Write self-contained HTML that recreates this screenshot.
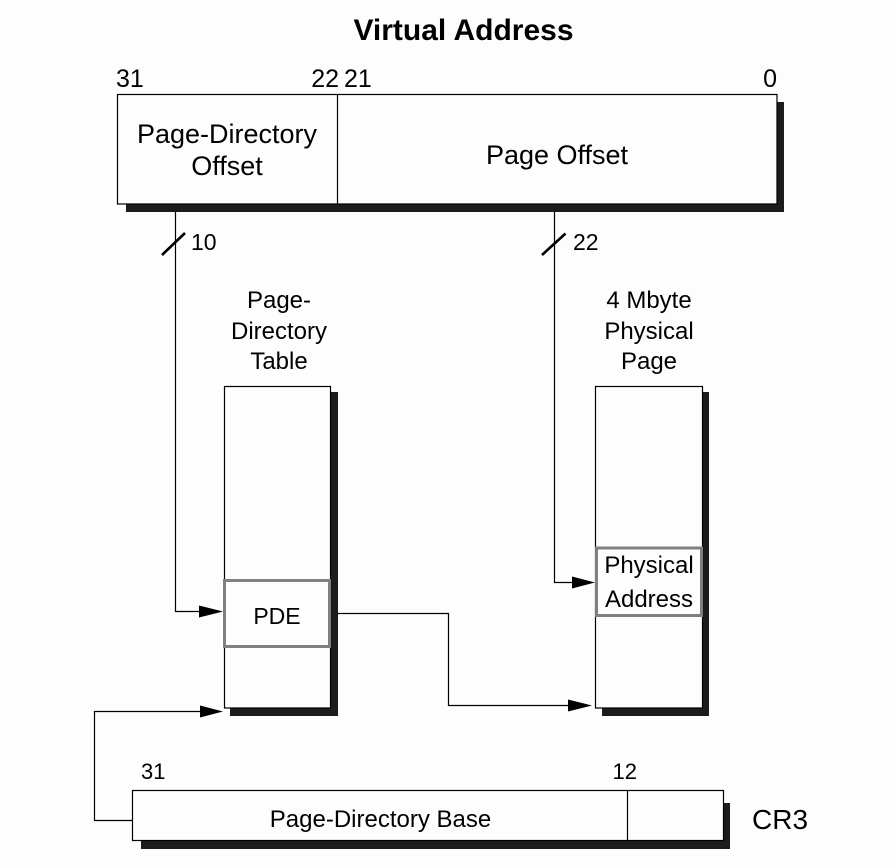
<!DOCTYPE html>
<html>
<head>
<meta charset="utf-8">
<style>
  html, body { margin: 0; padding: 0; background: #fdfdfd; }
  svg { display: block; }
  text { font-family: "Liberation Sans", Arial, sans-serif; fill: #000; }
</style>
</head>
<body>
<svg width="896" height="866" viewBox="0 0 896 866" xmlns="http://www.w3.org/2000/svg">
  <rect x="0" y="0" width="896" height="866" fill="#fdfdfd"/>

  <!-- Title -->
  <text x="463.5" y="40" font-size="30" font-weight="bold" text-anchor="middle">Virtual Address</text>

  <!-- Bit labels top -->
  <text x="116" y="87" font-size="25">31</text>
  <text x="339" y="87" font-size="25" text-anchor="end">22</text>
  <text x="344" y="87" font-size="25">21</text>
  <text x="777" y="87" font-size="25" text-anchor="end">0</text>

  <!-- Virtual address box -->
  <rect x="126" y="102" width="658" height="110" fill="#1c1c1c"/>
  <rect x="117.5" y="94.5" width="659.5" height="109.5" fill="#fdfdfd" stroke="#000" stroke-width="1.2"/>
  <line x1="337.5" y1="94.5" x2="337.5" y2="204" stroke="#000" stroke-width="1.2"/>
  <text x="227" y="143" font-size="27" text-anchor="middle">Page-Directory</text>
  <text x="227" y="175" font-size="27" text-anchor="middle">Offset</text>
  <text x="557" y="164" font-size="27" text-anchor="middle">Page Offset</text>

  <!-- Left connector: PD offset to PDE -->
  <polyline points="175.5,212 175.5,611.5 202,611.5" fill="none" stroke="#000" stroke-width="1.2"/>
  <polygon points="199,605.5 223,611.5 199,617.5" fill="#000"/>
  <line x1="162" y1="255" x2="185" y2="233" stroke="#000" stroke-width="2.6"/>
  <text x="191" y="250" font-size="23">10</text>

  <!-- Right connector: page offset to Physical Address -->
  <polyline points="554.5,212 554.5,582.5 574,582.5" fill="none" stroke="#000" stroke-width="1.2"/>
  <polygon points="572,576.5 595,582.5 572,588.5" fill="#000"/>
  <line x1="542" y1="255" x2="565.5" y2="233.5" stroke="#000" stroke-width="2.6"/>
  <text x="573" y="250" font-size="23">22</text>

  <!-- Column labels -->
  <text x="279" y="308" font-size="24" text-anchor="middle">Page-</text>
  <text x="279" y="339" font-size="24" text-anchor="middle">Directory</text>
  <text x="279" y="369" font-size="24" text-anchor="middle">Table</text>
  <text x="649" y="308" font-size="24" text-anchor="middle">4 Mbyte</text>
  <text x="649" y="339" font-size="24" text-anchor="middle">Physical</text>
  <text x="649" y="369" font-size="24" text-anchor="middle">Page</text>

  <!-- Page directory table -->
  <rect x="230" y="392" width="108" height="324" fill="#1c1c1c"/>
  <rect x="224.5" y="386.5" width="106" height="321.5" fill="#fdfdfd" stroke="#000" stroke-width="1.2"/>
  <rect x="224.5" y="580.5" width="105" height="66" fill="#fdfdfd" stroke="#808080" stroke-width="3"/>
  <text x="277" y="624" font-size="23" text-anchor="middle">PDE</text>

  <!-- 4 Mbyte physical page -->
  <rect x="602" y="392" width="107" height="324" fill="#1c1c1c"/>
  <rect x="595.5" y="386.5" width="107" height="321.5" fill="#fdfdfd" stroke="#000" stroke-width="1.2"/>
  <rect x="596.5" y="548" width="105" height="67.5" fill="#fdfdfd" stroke="#808080" stroke-width="3"/>
  <text x="649" y="573" font-size="24" text-anchor="middle">Physical</text>
  <text x="649" y="607" font-size="24" text-anchor="middle">Address</text>

  <!-- PDE to physical page connector -->
  <polyline points="338,613.5 448.5,613.5 448.5,705.5 570,705.5" fill="none" stroke="#000" stroke-width="1.2"/>
  <polygon points="568,699.5 592,705.5 568,711.5" fill="#000"/>

  <!-- CR3 to PD table connector -->
  <polyline points="132,820.5 94.5,820.5 94.5,711.5 202,711.5" fill="none" stroke="#000" stroke-width="1.2"/>
  <polygon points="200,705.5 223,711.5 200,717.5" fill="#000"/>

  <!-- CR3 register -->
  <text x="141" y="779" font-size="22">31</text>
  <text x="637" y="779" font-size="22" text-anchor="end">12</text>
  <rect x="141" y="803" width="589" height="46" fill="#1c1c1c"/>
  <rect x="132.5" y="790.5" width="591" height="50" fill="#fdfdfd" stroke="#000" stroke-width="1.2"/>
  <line x1="627.5" y1="790.5" x2="627.5" y2="840.5" stroke="#000" stroke-width="1.2"/>
  <text x="380.5" y="827" font-size="24" text-anchor="middle">Page-Directory Base</text>
  <text x="752" y="829" font-size="28">CR3</text>
</svg>
</body>
</html>
